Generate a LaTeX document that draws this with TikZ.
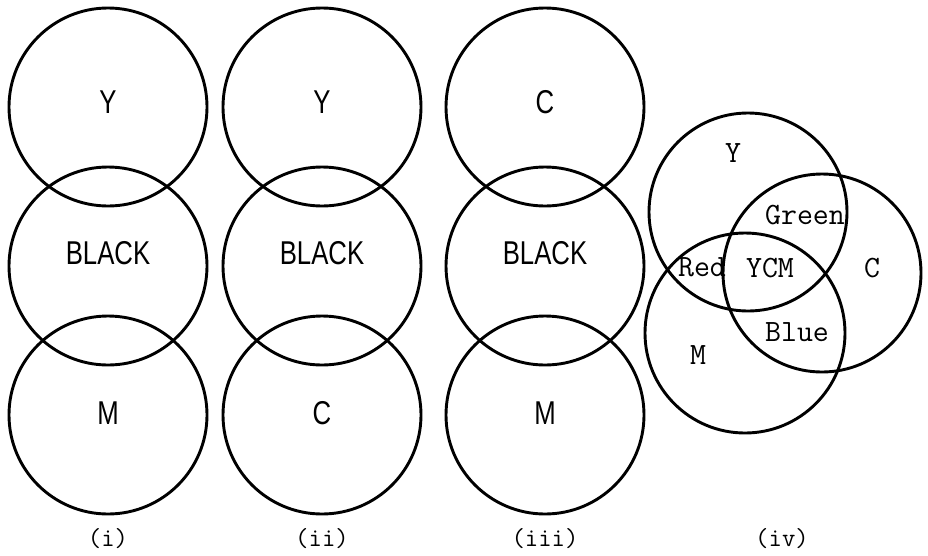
\documentclass[tikz,border=0pt]{standalone}
\usepackage{fontspec}
\usepackage{tikz}
\newfontfamily\narrowsans[FakeStretch=0.78]{Liberation Sans}

\begin{document}
\begin{tikzpicture}[x=1pt,y=-1pt,
  ring/.style={line width=2.9pt},
  sanslabel/.style={font=\narrowsans\fontsize{33}{36}\selectfont,inner sep=0pt},
  ttlabel/.style={font=\ttfamily\fontsize{31}{34}\selectfont,inner sep=0pt},
  panel/.style={font=\ttfamily\fontsize{26}{29}\selectfont,inner sep=0pt}]
  \useasboundingbox (0,0) rectangle (928,555);
  % three stacked arrangements
  \foreach \cx/\toptext/\bottext/\tagname in {108/Y/M/i, 322/Y/C/ii, 545/C/M/iii} {
    \draw[ring] (\cx,107) circle (99);
    \draw[ring] (\cx,266) circle (99);
    \draw[ring] (\cx,415) circle (99);
    \node[sanslabel] (top-\tagname) at (\cx,102) {\toptext};
    \node[sanslabel] (black-\tagname) at (\cx,253) {BLACK};
    \node[sanslabel] (bot-\tagname) at (\cx,413) {\bottext};
    \node[panel] (panel-\tagname) at (\cx,539) {(\tagname)};
  }
  % overlapping Y, C, M
  \draw[ring] (748,212) circle (99);
  \draw[ring] (822,273) circle (99);
  \draw[ring] (745,333) circle (100);
  \node[ttlabel] (ycirc) at (733,153) {Y};
  \node[ttlabel] (green) at (805,215) {Green};
  \node[ttlabel] (red) at (702,267) {Red};
  \node[ttlabel] (ycm) at (770,268) {YCM};
  \node[ttlabel] (ccirc) at (872,268) {C};
  \node[ttlabel] (blue) at (797,332) {Blue};
  \node[ttlabel] (mcirc) at (698,355) {M};
  \node[panel] (panel-iv) at (782,539) {(iv)};
\end{tikzpicture}
\end{document}
